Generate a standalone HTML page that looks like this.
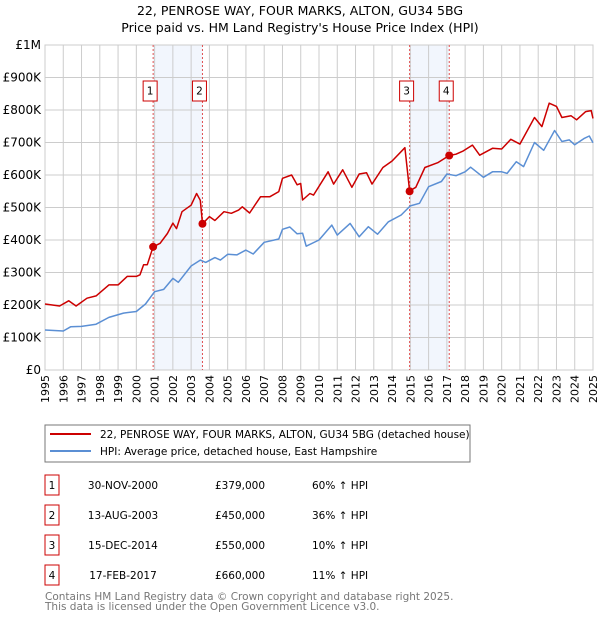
<!DOCTYPE html>
<html><head><meta charset="utf-8"><style>
body{margin:0;background:#fff;font-family:"DejaVu Sans","Liberation Sans",sans-serif;}
svg text{font-family:"DejaVu Sans","Liberation Sans",sans-serif;}
</style></head><body>
<svg id="c" width="600" height="620" xmlns="http://www.w3.org/2000/svg">
<text x="300" y="15" text-anchor="middle" font-size="12.5">22, PENROSE WAY, FOUR MARKS, ALTON, GU34 5BG</text>
<text x="300" y="32" text-anchor="middle" font-size="12.5">Price paid vs. HM Land Registry's House Price Index (HPI)</text>
<g id="plot"></g>
<rect x="45" y="425" width="425" height="37" fill="#fff" stroke="#777"/>
<line x1="50" y1="434" x2="91" y2="434" stroke="#cc0000" stroke-width="2"/>
<text x="100" y="438" font-size="10.5">22, PENROSE WAY, FOUR MARKS, ALTON, GU34 5BG (detached house)</text>
<line x1="50" y1="451" x2="91" y2="451" stroke="#5b8fd4" stroke-width="2"/>
<text x="100" y="455" font-size="10.5">HPI: Average price, detached house, East Hampshire</text>
<g id="table"></g>
<text x="45" y="600" font-size="10.5" fill="#777">Contains HM Land Registry data © Crown copyright and database right 2025.</text>
<text x="45" y="610" font-size="10.5" fill="#777">This data is licensed under the Open Government Licence v3.0.</text>
</svg>
<script>
const hpiYears=[1995,1996,1996.4,1997,1997.8,1998.5,1999.3,2000,2000.5,2001,2001.5,2002,2002.3,2003,2003.5,2003.8,2004.3,2004.6,2005,2005.5,2006,2006.4,2007,2007.8,2008,2008.4,2008.8,2009.1,2009.3,2010,2010.7,2011,2011.7,2012.2,2012.7,2013.2,2013.8,2014.5,2015,2015.5,2016,2016.7,2017,2017.5,2018,2018.3,2019,2019.5,2020,2020.3,2020.8,2021.2,2021.8,2022.3,2022.9,2023.3,2023.7,2024,2024.5,2024.8,2025];
const hpiValues=[123,120,133,134,141,162,175,180,203,241,248,282,270,320,338,331,346,338,356,354,369,357,393,403,433,440,419,421,381,400,446,415,451,410,441,418,456,477,505,513,564,580,603,598,610,624,593,610,610,605,641,626,700,676,737,703,708,693,712,720,699];
const propYears=[1995,1995.8,1996.3,1996.7,1997.3,1997.8,1998.5,1999,1999.5,2000,2000.2,2000.4,2000.6,2000.92,2001.3,2001.7,2002,2002.2,2002.5,2003,2003.3,2003.5,2003.62,2004,2004.3,2004.8,2005.2,2005.6,2005.8,2006.2,2006.8,2007.3,2007.8,2008,2008.5,2008.8,2009,2009.1,2009.5,2009.7,2010.5,2010.8,2011.3,2011.8,2012.2,2012.6,2012.9,2013.5,2014,2014.7,2014.96,2015.3,2015.8,2016.5,2017.13,2017.5,2017.9,2018.4,2018.8,2019.5,2020,2020.5,2021,2021.8,2022.2,2022.6,2023,2023.3,2023.8,2024.1,2024.6,2024.9,2025];
const propValues=[203,197,213,197,221,228,262,262,288,288,293,324,324,379,390,420,452,435,487,507,543,522,450,472,460,487,482,492,502,483,533,533,549,590,600,570,574,523,543,538,610,572,616,562,603,607,572,623,643,684,551,562,623,638,660,664,674,692,661,682,680,710,695,777,749,821,811,777,782,770,795,798,774];
const saleYears=[2000.92,2003.62,2014.96,2017.13];
const saleValues=[379,450,550,660];
const saleLabels=["1","2","3","4"];
const saleDates=["30-NOV-2000","13-AUG-2003","15-DEC-2014","17-FEB-2017"];
const salePrices=["£379,000","£450,000","£550,000","£660,000"];
const saleHpi=["60% ↑ HPI","36% ↑ HPI","10% ↑ HPI","11% ↑ HPI"];
const yTicks=[0,100,200,300,400,500,600,700,800,900,1000];
const yTickLabels=["£0","£100K","£200K","£300K","£400K","£500K","£600K","£700K","£800K","£900K","£1M"];
const xTicks=[1995,1996,1997,1998,1999,2000,2001,2002,2003,2004,2005,2006,2007,2008,2009,2010,2011,2012,2013,2014,2015,2016,2017,2018,2019,2020,2021,2022,2023,2024,2025];

const NS="http://www.w3.org/2000/svg";
const X0=45,X1=593,Y0=370,Y1=45;
const xs=y=>X0+(y-1995)/30*(X1-X0);
const ys=v=>Y0-v/1000*(Y0-Y1);
function mk(tag,attrs,parent){const e=document.createElementNS(NS,tag);for(const k in attrs)e.setAttribute(k,attrs[k]);parent.appendChild(e);return e;}
const g=document.getElementById('plot');
for(let i=0;i<saleYears.length;i+=2){
  const r=mk('rect',{x:xs(saleYears[i]),y:Y1,width:xs(saleYears[i+1])-xs(saleYears[i]),height:Y0-Y1,fill:'#f2f6fd'},g);
  
  
}
xTicks.forEach(t=>{
  const l=mk('line',{x1:xs(t),x2:xs(t),y1:Y1,y2:Y0,stroke:'#ccc','stroke-width':1},g);
  
  
  const tx=mk('text',{x:0,y:0,'font-size':11,'text-anchor':'end',transform:`translate(${xs(t)+4},${Y0+5}) rotate(-90)`},g);
  tx.textContent=t;
  
  
});
yTicks.forEach((t,i)=>{
  const l=mk('line',{x1:X0,x2:X1,y1:ys(t),y2:ys(t),stroke:'#ccc','stroke-width':1},g);
  
  
  const tx=mk('text',{x:X0-4,y:ys(t)+4,'font-size':12,'text-anchor':'end'},g);
  tx.textContent=yTickLabels[i];
  
  
});
const ax=mk('rect',{x:X0,y:Y1,width:X1-X0,height:Y0-Y1,fill:'none',stroke:'#ccc'},g);


saleYears.forEach((s,i)=>{
  const l=mk('line',{x1:xs(s),x2:xs(s),y1:Y1,y2:Y0,stroke:'#e05050','stroke-dasharray':'2,2','stroke-width':1},g);
  
  
});
function path(xa,va,color,name){
  const d=xa.map((x,i)=>(i?'L':'M')+xs(x).toFixed(1)+','+ys(va[i]).toFixed(1)).join('');
  const p=mk('path',{d:d,fill:'none',stroke:color,'stroke-width':1.5,'stroke-linejoin':'round'},g);
  
  
}
path(hpiYears,hpiValues,'#5b8fd4','hpi-line');
path(propYears,propValues,'#cc0000','property-line');
saleYears.forEach((s,i)=>{
  const c=mk('circle',{cx:xs(s),cy:ys(saleValues[i]),r:4,fill:'#cc0000'},g);
  
  
  const b=mk('rect',{x:xs(s)-10,y:81,width:14,height:20,fill:'#fff',stroke:'#cc0000'},g);
  
  
  const t=mk('text',{x:xs(s)-3,y:94.5,'font-size':10.5,'text-anchor':'middle'},g);
  t.textContent=saleLabels[i];
  
  
});
const tb=document.getElementById('table');
saleLabels.forEach((lab,i)=>{
  const y=483+i*30;
  const b=mk('rect',{x:45,y:y-8,width:14,height:20,fill:'#fff',stroke:'#cc0000'},tb);
  
  
  const cols=[[52,lab,'middle'],[123,saleDates[i],'middle'],[240,salePrices[i],'middle'],[312,saleHpi[i],'start']];
  cols.forEach(c=>{
    const t=mk('text',{x:c[0],y:y+6,'font-size':10.5,'text-anchor':c[2]},tb);
    t.textContent=c[1];
    
    
  });
});
</script>
</body></html>
